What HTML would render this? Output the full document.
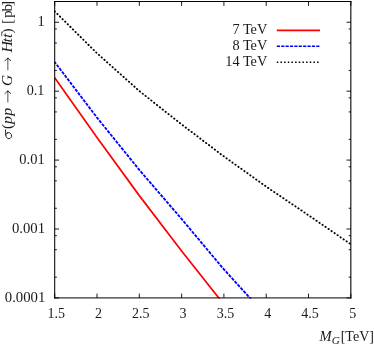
<!DOCTYPE html>
<html><head><meta charset="utf-8"><title>plot</title>
<style>
html,body{margin:0;padding:0;background:#fff;}
body{width:374px;height:345px;overflow:hidden;}
svg{display:block;will-change:transform;}
svg{font-size:14px;}
text{font-family:"Liberation Serif",serif;fill:#1a1a1a;}
.it{font-style:italic;}
</style></head><body>
<svg width="374" height="345" viewBox="0 0 374 345">
<rect width="374" height="345" fill="#fff"/>
<defs><clipPath id="c"><rect x="54.1" y="0.92" width="297.33" height="297.59000000000003"/></clipPath></defs>
<g clip-path="url(#c)" fill="none">
<path d="M54.70,77.65 L97.00,137.49 L139.31,195.62 L181.61,251.04 L223.92,304.44" stroke="#ff0000" stroke-width="1.7"/>
<path d="M54.70,62.00 L97.00,117.60 L139.31,169.90 L181.61,218.96 L223.92,269.40 L266.22,315.90" stroke="#0000ff" stroke-width="1.85" stroke-dasharray="3.2 1.18" stroke-dashoffset="1.0"/>
<path d="M54.70,11.33 L97.00,53.23 L139.31,91.01 L181.61,124.41 L223.92,156.47 L266.22,186.65 L308.53,215.26 L350.83,244.30" stroke="#000" stroke-width="1.85" stroke-dasharray="0.4 3.25" stroke-linecap="round"/>
</g>
<g fill="none" stroke="#000" stroke-width="1">
<path d="M54.7,0.96 V298.41" stroke-width="1.03"/>
<path d="M350.83,0.96 V298.41" stroke-width="1.09"/>
<path d="M54.185,1.52 H351.375" stroke-width="1.12"/>
<path d="M54.185,297.91 H351.375" stroke-width="1.0"/>
<path d="M54.70,297.91 v-4.3 M54.70,1.52 v4.3 M97.00,297.91 v-4.3 M97.00,1.52 v4.3 M139.31,297.91 v-4.3 M139.31,1.52 v4.3 M181.61,297.91 v-4.3 M181.61,1.52 v4.3 M223.92,297.91 v-4.3 M223.92,1.52 v4.3 M266.22,297.91 v-4.3 M266.22,1.52 v4.3 M308.53,297.91 v-4.3 M308.53,1.52 v4.3 M350.83,297.91 v-4.3 M350.83,1.52 v4.3 M54.7,297.91 h4.3 M350.83,297.91 h-4.3 M54.7,277.17 h2.15 M350.83,277.17 h-2.15 M54.7,249.74 h2.15 M350.83,249.74 h-2.15 M54.7,235.68 h2.15 M350.83,235.68 h-2.15 M54.7,229.00 h4.3 M350.83,229.00 h-4.3 M54.7,208.25 h2.15 M350.83,208.25 h-2.15 M54.7,180.83 h2.15 M350.83,180.83 h-2.15 M54.7,166.77 h2.15 M350.83,166.77 h-2.15 M54.7,160.09 h4.3 M350.83,160.09 h-4.3 M54.7,139.34 h2.15 M350.83,139.34 h-2.15 M54.7,111.92 h2.15 M350.83,111.92 h-2.15 M54.7,97.85 h2.15 M350.83,97.85 h-2.15 M54.7,91.18 h4.3 M350.83,91.18 h-4.3 M54.7,70.43 h2.15 M350.83,70.43 h-2.15 M54.7,43.01 h2.15 M350.83,43.01 h-2.15 M54.7,28.94 h2.15 M350.83,28.94 h-2.15 M54.7,22.26 h4.3 M350.83,22.26 h-4.3 M54.7,1.52 h2.15 M350.83,1.52 h-2.15" stroke-width="0.9"/>
</g>
<g><text x="56.20" y="317.5" text-anchor="middle">1.5</text><text x="98.50" y="317.5" text-anchor="middle">2</text><text x="140.81" y="317.5" text-anchor="middle">2.5</text><text x="183.11" y="317.5" text-anchor="middle">3</text><text x="225.42" y="317.5" text-anchor="middle">3.5</text><text x="267.72" y="317.5" text-anchor="middle">4</text><text x="310.03" y="317.5" text-anchor="middle">4.5</text><text x="352.83" y="317.5" text-anchor="middle">5</text></g>
<g font-size="14.5"><text x="44.7" y="26.16" text-anchor="end">1</text><text x="26.65" y="95.08" textLength="17.7" lengthAdjust="spacingAndGlyphs">0.1</text><text x="19.35" y="163.99" textLength="25.3" lengthAdjust="spacingAndGlyphs">0.01</text><text x="11.95" y="232.90" textLength="33.1" lengthAdjust="spacingAndGlyphs">0.001</text><text x="4.75" y="301.81" textLength="40.6" lengthAdjust="spacingAndGlyphs">0.0001</text></g>
<!-- legend -->
<g font-size="14.3">
<text x="267.3" y="34.1" text-anchor="end">7 TeV</text>
<text x="267.3" y="50.05" text-anchor="end">8 TeV</text>
<text x="267.3" y="66.0" text-anchor="end">14 TeV</text>
<g fill="none">
<path d="M276.8,30.35 H320.0" stroke="#ff0000" stroke-width="1.55"/>
<path d="M276.8,46.3 H319.6" stroke="#0000ff" stroke-width="1.45" stroke-dasharray="3.2 1.18"/>
<path d="M276.8,62.25 H319.6" stroke="#000" stroke-width="1.6" stroke-dasharray="1.5 2.16"/>
</g>
</g>
<!-- x title -->
<text class="it" transform="translate(319.5,341.2) scale(1.04,1)">M</text>
<text class="it" font-size="9.8" transform="translate(331.8,343.5) scale(1.15,1)">G</text>
<text x="340.7" y="341.2">[TeV]</text>
<!-- y title -->
<g transform="translate(12.0,140) rotate(-90)" font-size="14.5">
<text transform="translate(10.9,0) scale(1.06,1)">(</text>
<text transform="translate(16.1,0) scale(1.1,1)" class="it">p</text>
<text transform="translate(24.2,0) scale(1.1,1)" class="it">p</text>
<text transform="translate(54.0,0) scale(1.06,1)" class="it">G</text>
<text transform="translate(87.6,0) scale(1.1,1)" class="it">H</text>
<text transform="translate(97.4,0) scale(1.12,1)" class="it">t</text>
<text transform="translate(101.9,0) scale(1.12,1)" class="it">t</text>
<text transform="translate(106.5,0) scale(1.06,1)">)</text>
<text transform="translate(116.0,0) scale(1.06,1)">[</text>
<text transform="translate(122.0,0) scale(1.06,1)">p</text>
<text transform="translate(128.4,0) scale(1.06,1)">b</text>
<text transform="translate(134.1,0) scale(1.06,1)">]</text>
<g fill="none" stroke="#1a1a1a" stroke-linecap="round"><ellipse cx="4.4" cy="-3.3" rx="3.15" ry="2.85" transform="rotate(-25,4.4,-3.3)" stroke-width="0.85"/><path d="M5.0,-6.3 L10.2,-6.45" stroke-width="0.95"/></g>
<path d="M37.5,-4.15 H49.0" fill="none" stroke="#1a1a1a" stroke-width="0.75"/>
<path d="M46.5,-7.050000000000001 Q48.18,-4.88 49.3,-4.15 Q48.18,-3.43 46.5,-1.2500000000000004" fill="none" stroke="#1a1a1a" stroke-width="0.85" stroke-linecap="round" stroke-linejoin="miter"/>
<path d="M49.5,-4.15 L47.8,-5.15 L48.3,-4.15 L47.8,-3.1500000000000004 Z" fill="#1a1a1a"/>
<path d="M69.7,-4.15 H81.8" fill="none" stroke="#1a1a1a" stroke-width="0.75"/>
<path d="M79.3,-7.050000000000001 Q80.98,-4.88 82.1,-4.15 Q80.98,-3.43 79.3,-1.2500000000000004" fill="none" stroke="#1a1a1a" stroke-width="0.85" stroke-linecap="round" stroke-linejoin="miter"/>
<path d="M82.3,-4.15 L80.6,-5.15 L81.1,-4.15 L80.6,-3.1500000000000004 Z" fill="#1a1a1a"/>
<path d="M103.8,-10.3 H108.4" fill="none" stroke="#1a1a1a" stroke-width="0.7"/>
</g>
</svg>
</body></html>
